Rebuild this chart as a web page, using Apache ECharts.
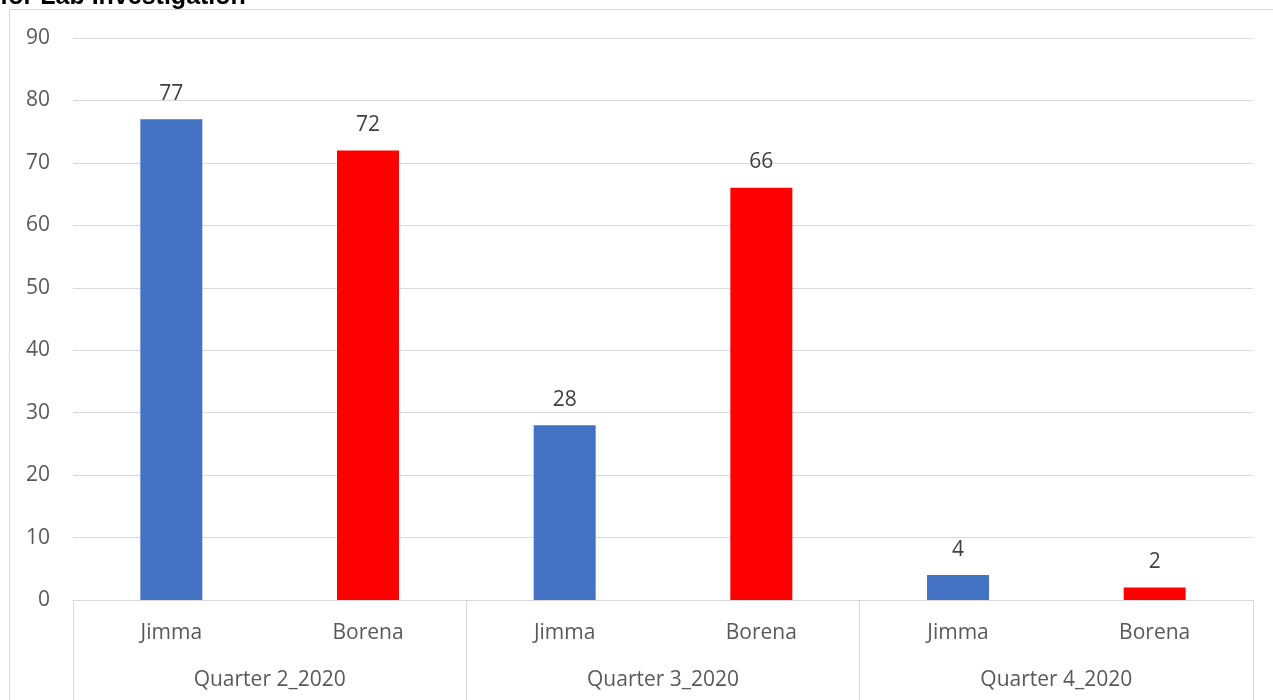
<!DOCTYPE html>
<html>
<head>
<meta charset="utf-8">
<script src="https://cdn.jsdelivr.net/npm/echarts@6/dist/echarts.min.js"></script>
<style>
  html, body { margin: 0; padding: 0; background: #ffffff; }
  #chart { width: 1273px; height: 700px; }
</style>
</head>
<body>
<div id="chart"></div>
<script>
// Samples sent for lab investigation, per site and quarter
const quarters = ['Quarter 2_2020', 'Quarter 3_2020', 'Quarter 4_2020'];
const sites = ['Jimma', 'Borena', 'Jimma', 'Borena', 'Jimma', 'Borena'];
const counts = [77, 72, 28, 66, 4, 2];
const siteColors = { Jimma: '#4472C4', Borena: '#FF0000' };
const titleText = 'for Lab Investigation';

const FONT = "'Open Sans', 'Noto Sans', sans-serif";
const FS = 21;
const gridColor = '#d9d9d9';

const chart = echarts.init(document.getElementById('chart'), null, { renderer: 'canvas' });

chart.setOption({
  animation: false,
  backgroundColor: '#ffffff',
  graphic: [
    {
      type: 'rect',
      shape: { x: 9.5, y: 9.5, width: 1300, height: 720 },
      style: { fill: 'none', stroke: gridColor, lineWidth: 1 },
      z: 0
    },
    {
      type: 'text',
      style: {
        text: titleText,
        x: 0,
        y: 10,
        verticalAlign: 'bottom',
        font: "bold 25px 'Liberation Sans', Arial, sans-serif",
        fill: '#000000'
      },
      z: 10
    }
  ],
  grid: { left: 73, right: 20, top: 38, bottom: 100, containLabel: false },
  xAxis: [
    {
      type: 'category',
      data: sites,
      position: 'bottom',
      axisLine: { show: true, lineStyle: { color: gridColor, width: 1 } },
      axisTick: { show: false },
      axisLabel: { color: '#595959', fontSize: FS, fontFamily: FONT, margin: 23, interval: 0 }
    },
    {
      type: 'category',
      data: quarters,
      position: 'bottom',
      axisLine: { show: false },
      axisTick: { show: true, length: 100, interval: 0, lineStyle: { color: gridColor, width: 1 } },
      axisLabel: { color: '#595959', fontSize: FS, fontFamily: FONT, margin: 70, interval: 0 },
      splitLine: { show: false }
    }
  ],
  yAxis: {
    type: 'value',
    min: 0,
    max: 90,
    interval: 10,
    axisLine: { show: false },
    axisTick: { show: false },
    axisLabel: { color: '#595959', fontSize: FS, fontFamily: FONT, margin: 23 },
    splitLine: { show: true, lineStyle: { color: gridColor, width: 1 } }
  },
  series: [
    {
      type: 'bar',
      xAxisIndex: 0,
      barWidth: 62,
      data: counts.map((v, i) => ({ value: v, itemStyle: { color: siteColors[sites[i]] } })),
      label: {
        show: true,
        position: 'top',
        distance: 15,
        color: '#404040',
        fontSize: FS,
        fontFamily: FONT
      }
    }
  ]
});
</script>
</body>
</html>
